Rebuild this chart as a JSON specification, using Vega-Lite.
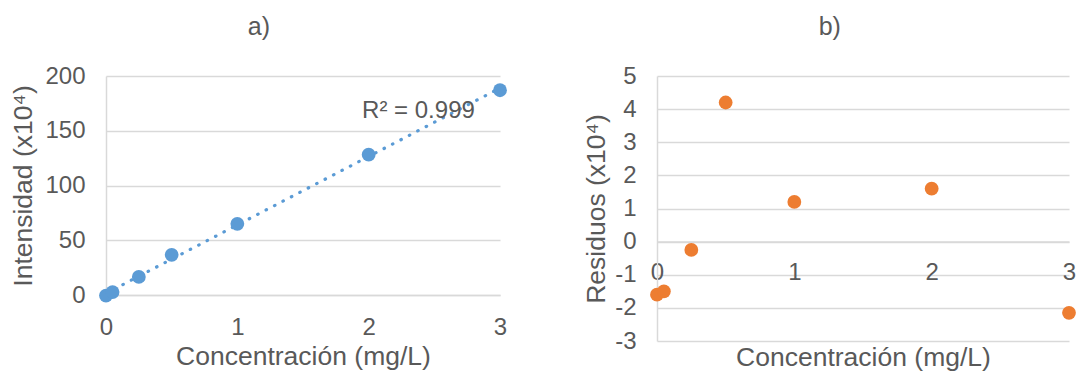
{
  "$schema": "https://vega.github.io/schema/vega-lite/v6.json",
  "padding": {"left": 10, "top": 15, "right": 0, "bottom": 0},
  "background": "white",
  "config": {
    "font": "Liberation Sans",
    "view": {"stroke": null},
    "axis": {
      "labelColor": "#595959",
      "titleColor": "#595959",
      "labelFontSize": 24,
      "titleFontSize": 26.5,
      "titleFontWeight": "normal",
      "labelFont": "Liberation Sans",
      "titleFont": "Liberation Sans",
      "labelFlush": false,
      "labelOverlap": false,
      "ticks": false,
      "domainColor": "#d9d9d9",
      "domainWidth": 1.5,
      "gridColor": "#d9d9d9",
      "gridWidth": 1.5
    },
    "title": {"fontSize": 25, "fontWeight": "normal", "color": "#595959", "font": "Liberation Sans", "frame": "bounds", "anchor": "middle"},
    "concat": {"spacing": 76}
  },
  "hconcat": [
    {
      "title": {"text": "a)", "offset": 24},
      "width": 394,
      "height": 219,
      "data": {"values": [
        {"conc": 0, "intensidad": -0.5},
        {"conc": 0.05, "intensidad": 2.7},
        {"conc": 0.25, "intensidad": 16.5},
        {"conc": 0.5, "intensidad": 36.7},
        {"conc": 1, "intensidad": 65},
        {"conc": 2, "intensidad": 128.1},
        {"conc": 3, "intensidad": 187}
      ]},
      "encoding": {
        "x": {"field": "conc", "type": "quantitative", "scale": {"domain": [0, 3], "nice": false},
              "axis": {"values": [0, 1, 2, 3], "grid": false, "labelPadding": 20, "title": "Concentración (mg/L)", "titleY": 61, "titleBaseline": "middle"}},
        "y": {"field": "intensidad", "type": "quantitative", "scale": {"domain": [0, 200], "nice": false},
              "axis": {"values": [0, 50, 100, 150, 200], "grid": true, "labelPadding": 21, "titlePadding": 7, "title": "Intensidad (x10⁴)"}}
      },
      "layer": [
        {
          "transform": [{"regression": "intensidad", "on": "conc", "extent": [0, 3]}],
          "mark": {"type": "line", "color": "#5b9bd5", "strokeWidth": 3.2, "strokeDash": [0.5, 9], "strokeCap": "round"}
        },
        {
          "mark": {"type": "point", "filled": true, "size": 190, "color": "#5b9bd5", "opacity": 1}
        },
        {
          "data": {"values": [{"conc": 1.95, "intensidad": 168, "label": "R² = 0.999"}]},
          "mark": {"type": "text", "align": "left", "baseline": "middle", "fontSize": 24, "color": "#595959", "font": "Liberation Sans"},
          "encoding": {"text": {"field": "label"}}
        }
      ]
    },
    {
      "title": {"text": "b)", "offset": 24},
      "width": 412,
      "height": 265,
      "data": {"values": [
        {"conc": 0, "residuo": -1.6},
        {"conc": 0.05, "residuo": -1.5},
        {"conc": 0.25, "residuo": -0.25},
        {"conc": 0.5, "residuo": 4.2},
        {"conc": 1, "residuo": 1.2},
        {"conc": 2, "residuo": 1.6},
        {"conc": 3, "residuo": -2.15}
      ]},
      "mark": {"type": "point", "filled": true, "size": 190, "color": "#ed7d31", "opacity": 1},
      "encoding": {
        "x": {"field": "conc", "type": "quantitative", "scale": {"domain": [0, 3], "nice": false},
              "axis": {"values": [0, 1, 2, 3], "grid": false, "offset": -99.4, "labelPadding": 19, "title": "Concentración (mg/L)", "titleY": 115.4, "titleBaseline": "middle"}},
        "y": {"field": "residuo", "type": "quantitative", "scale": {"domain": [-3, 5], "nice": false},
              "axis": {"values": [-3, -2, -1, 0, 1, 2, 3, 4, 5], "grid": true, "labelPadding": 21, "titlePadding": 4, "labelExpr": "'' + datum.value", "title": "Residuos (x10⁴)"}}
      }
    }
  ]
}
